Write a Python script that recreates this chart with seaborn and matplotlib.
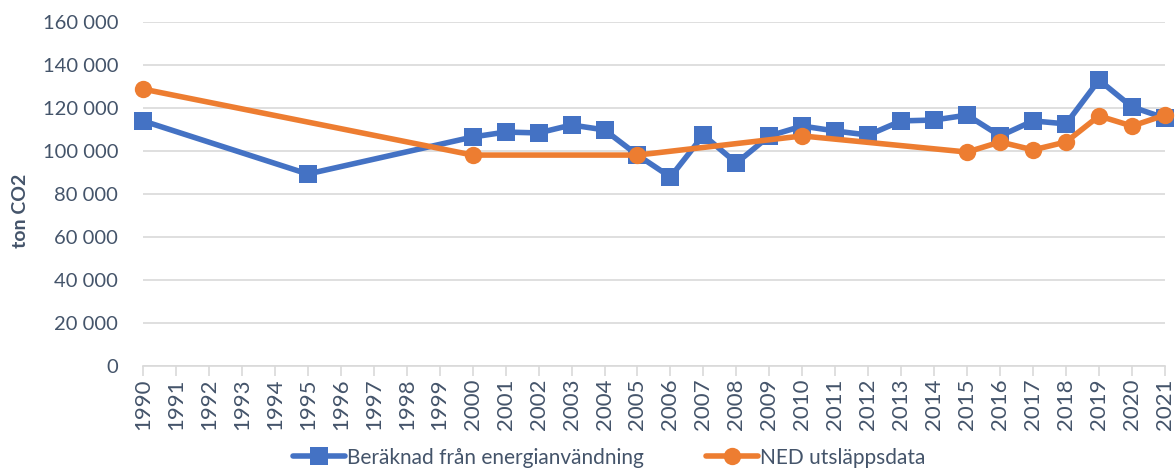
import pandas as pd
import seaborn as sns
import matplotlib.pyplot as plt
from matplotlib.ticker import FuncFormatter, MultipleLocator


def set_config():
    sns.set_theme(style="white")
    plt.rcParams["font.family"] = ["Lato", "DejaVu Sans"]


def load_data():
    # värden (ton CO2)
    energi = {
        1990: 114000, 1995: 89300, 2000: 106500, 2001: 108800, 2002: 108400,
        2003: 112100, 2004: 109800, 2005: 98100, 2006: 87900, 2007: 107400,
        2008: 94400, 2009: 107000, 2010: 111600, 2011: 109300, 2012: 107400,
        2013: 114000, 2014: 114400, 2015: 116700, 2016: 107000, 2017: 114000,
        2018: 112600, 2019: 133000, 2020: 120500, 2021: 115300,
    }
    ned = {
        1990: 128800, 2000: 98100, 2005: 98100, 2010: 107000, 2015: 99500,
        2016: 104200, 2017: 100500, 2018: 104200, 2019: 116300, 2020: 111600,
        2021: 116700,
    }
    rows = [("Beräknad från energianvändning", y, v) for y, v in energi.items()]
    rows += [("NED utsläppsdata", y, v) for y, v in ned.items()]
    return pd.DataFrame(rows, columns=["serie", "år", "ton"])


def show_graph(df):
    fig = plt.figure(figsize=(11.76, 4.68), dpi=100)
    ax = fig.add_axes([0.1216, 0.218, 0.869, 0.735])

    palette = {"Beräknad från energianvändning": "#4472C4",
               "NED utsläppsdata": "#ED7D31"}
    markers = {"Beräknad från energianvändning": "s",
               "NED utsläppsdata": "o"}
    sns.lineplot(data=df, x="år", y="ton", hue="serie", style="serie",
                 palette=palette, markers=markers, dashes=False,
                 linewidth=4, markersize=12.5, markeredgewidth=0,
                 clip_on=False, ax=ax, zorder=3)

    txt = "#44546A"
    ax.set_xlim(1990, 2021)
    ax.set_ylim(0, 160000)
    ax.xaxis.set_major_locator(MultipleLocator(1))
    ax.yaxis.set_major_locator(MultipleLocator(20000))
    ax.yaxis.set_major_formatter(
        FuncFormatter(lambda v, p: f"{int(v):,}".replace(",", " ")))
    ax.grid(axis="y", color="#D9D9D9", linewidth=1.2)
    ax.grid(axis="x", visible=False)
    for s in ["top", "right", "left"]:
        ax.spines[s].set_visible(False)
    ax.spines["bottom"].set_color("#D9D9D9")
    ax.spines["bottom"].set_linewidth(1.2)
    ax.tick_params(axis="x", rotation=90, labelsize=16, colors=txt,
                   length=7, width=1.2, color="#D9D9D9", bottom=True, pad=2)
    ax.tick_params(axis="y", labelsize=14.5, colors=txt, length=0, pad=18)
    ax.set_xlabel("")
    ax.set_ylabel("")
    # y-axelns titel
    fig.text(20 / 1176, 0.55, "ton CO2", rotation=90, ha="center",
             va="center", fontsize=14, fontweight="bold", color=txt)

    sns.move_legend(ax, "center", bbox_to_anchor=(0.518, 0.022),
                    bbox_transform=fig.transFigure,
                    ncol=2, frameon=False, title=None, fontsize=15,
                    handlelength=2.5, columnspacing=3.0, handletextpad=0.1,
                    borderpad=0)
    for t in ax.get_legend().get_texts():
        t.set_color(txt)

    fig.savefig("out.png", dpi=100)


def main():
    set_config()
    data = load_data()
    show_graph(data)


if __name__ == "__main__":
    main()
